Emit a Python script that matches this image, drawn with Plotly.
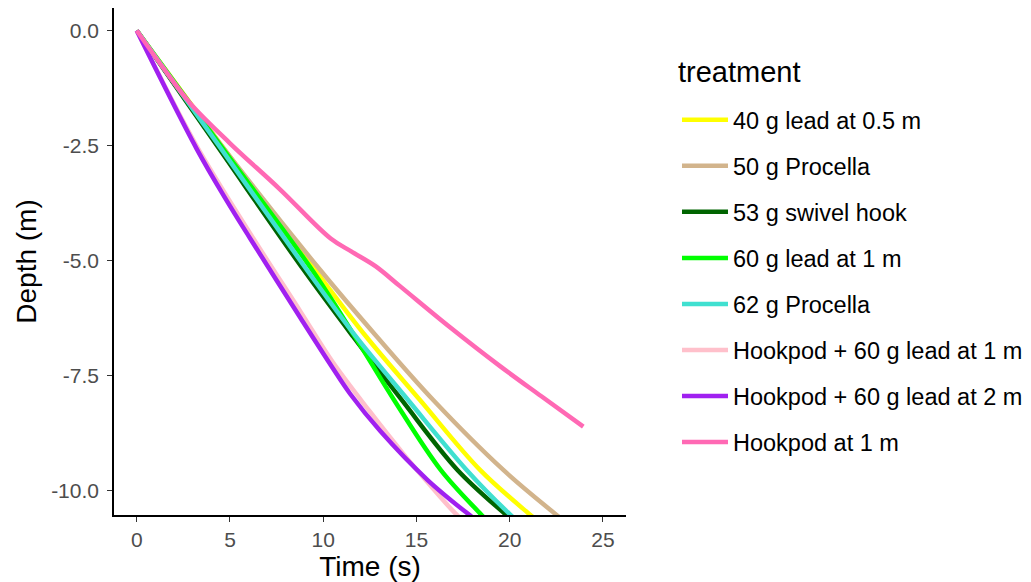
import plotly.graph_objects as go

# ---- data ----
treatments = [
    "40 g lead at 0.5 m",
    "50 g Procella",
    "53 g swivel hook",
    "60 g lead at 1 m",
    "62 g Procella",
    "Hookpod + 60 g lead at 1 m",
    "Hookpod + 60 g lead at 2 m",
    "Hookpod at 1 m",
]
colors = ["#FFFF00", "#D2B48C", "#006400", "#00FF00", "#40E0D0",
          "#FFC0CB", "#A020F0", "#FF69B4"]

# depths shared by the five weighted-line treatments (m)
bundle_depth = [0, -2.5, -5.2, -6.65, -8.03, -9.55, -10.49, -10.8]
time_40g_lead = [0, 4.55, 9.56, 12.3, 15.19, 18.41, 21.0, 21.95]
time_50g_procella = [0, 4.55, 9.83, 12.87, 15.9, 19.66, 22.4, 23.35]
time_53g_swivel = [0, 4.3, 8.95, 11.6, 14.21, 17.2, 19.7, 20.6]
time_60g_lead_1m = [0, 4.5, 9.4, 11.7, 13.8, 16.3, 18.4, 19.15]
time_62g_procella = [0, 4.4, 9.12, 11.75, 14.55, 17.69, 19.95, 20.8]

time_hp_lead_1m = [0, 3.2, 6.1, 8.8, 10.5, 12.5, 14.3, 15.6, 16.7, 17.1, 17.8]
depth_hp_lead_1m = [0, -2.5, -4.42, -6.12, -7.2, -8.28, -9.2, -9.82, -10.33, -10.5, -10.78]

time_hp_lead_2m = [0, 3.2, 4.8, 6.1, 8.8, 10.5, 11.45, 13.05, 15.6, 17.75, 18.5]
depth_hp_lead_2m = [0, -2.56, -3.68, -4.53, -6.26, -7.33, -7.9, -8.7, -9.77, -10.5, -10.73]

time_hp_1m = [0, 1.4, 2.86, 5.0, 7.68, 10.4, 11.5, 12.8, 14.1, 16.8, 19.5, 21.7, 23.95]
depth_hp_1m = [0, -0.8, -1.58, -2.45, -3.45, -4.52, -4.80, -5.12, -5.55, -6.45, -7.3, -7.95, -8.61]

x_ticks = [0, 5, 10, 15, 20, 25]
y_ticks = [0, -2.5, -5, -7.5, -10]
y_tick_labels = ["0.0", "-2.5", "-5.0", "-7.5", "-10.0"]

series_x = [time_40g_lead, time_50g_procella, time_53g_swivel, time_60g_lead_1m,
            time_62g_procella, time_hp_lead_1m, time_hp_lead_2m, time_hp_1m]
series_y = [bundle_depth, bundle_depth, bundle_depth, bundle_depth, bundle_depth,
            depth_hp_lead_1m, depth_hp_lead_2m, depth_hp_1m]

FONT = "Liberation Sans, Arial, sans-serif"

fig = go.Figure()
for name, col, xs, ys in zip(treatments, colors, series_x, series_y):
    fig.add_trace(go.Scatter(
        x=xs, y=ys, mode="lines", name=name, legendgroup=name,
        line=dict(color=col, width=4.5, shape="spline", smoothing=1.0),
    ))

# the page body adds an 8 px offset, so the figure is 8 px smaller
fig.update_layout(
    width=1023, height=574,
    margin=dict(l=106, r=405, t=0, b=67),
    plot_bgcolor="white", paper_bgcolor="white",
    font=dict(family=FONT, color="black"),
    showlegend=True,
    legend=dict(
        font=dict(size=23.5, color="black"),
        x=1.0996, xanchor="left", y=0.8225, yanchor="top",
        tracegroupgap=12.5, itemwidth=46, bgcolor="rgba(0,0,0,0)",
    ),
    annotations=[dict(
        text="treatment", xref="paper", yref="paper",
        x=1.0977, y=0.874, xanchor="left", yanchor="middle",
        showarrow=False, font=dict(size=29, color="black"),
    )],
    xaxis=dict(
        range=[-1.22, 26.24], tickvals=x_ticks, automargin=False,
        showline=True, linecolor="black", linewidth=1.6,
        ticks="outside", ticklen=5, tickwidth=1.4, tickcolor="#333333",
        showgrid=False, zeroline=False,
        tickfont=dict(size=21, color="#4D4D4D"),
        title=dict(text="Time (s)", font=dict(size=28, color="black"), standoff=2),
    ),
    yaxis=dict(
        range=[-10.53, 0.49], tickvals=y_ticks, ticktext=y_tick_labels,
        automargin=False, ticklabelstandoff=4,
        showline=True, linecolor="black", linewidth=1.6,
        ticks="outside", ticklen=5, tickwidth=1.4, tickcolor="#333333",
        showgrid=False, zeroline=False,
        tickfont=dict(size=21, color="#4D4D4D"),
        title=dict(text="Depth (m)", font=dict(size=28, color="black"), standoff=6),
    ),
)

fig.write_html("out.html")
